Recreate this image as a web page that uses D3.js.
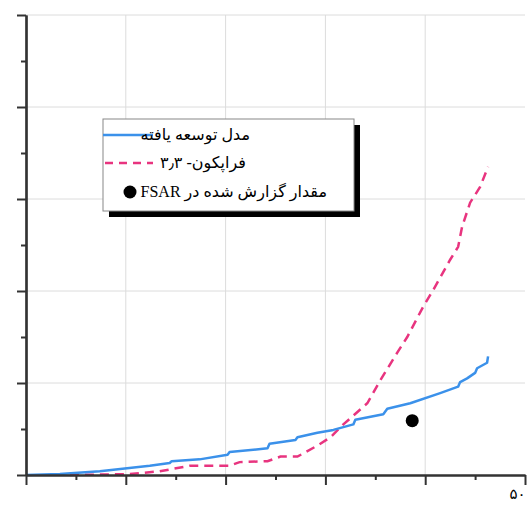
<!DOCTYPE html>
<html>
<head>
<meta charset="utf-8">
<script src="https://cdn.jsdelivr.net/npm/d3@7"></script>
<style>
  body { margin: 0; background: #fff; }
  svg { display: block; }
</style>
</head>
<body>
<div class="app"></div>
<script>
// developed model (blue, solid)
var modelX = [0, 3.4, 7.4, 9.9, 12.4, 14.4, 14.6, 17.4, 20.2, 20.4, 24.2, 24.4, 27.0, 27.2, 29.2, 30.8, 32.8, 33.0, 35.8, 36.2, 38.5, 41.5, 43.3, 43.5, 44.2, 45.0, 45.2, 46.2, 46.3];
var modelY = [0, 0.01, 0.04, 0.07, 0.10, 0.13, 0.15, 0.17, 0.22, 0.25, 0.29, 0.34, 0.38, 0.41, 0.46, 0.49, 0.55, 0.60, 0.66, 0.72, 0.78, 0.89, 0.96, 1.01, 1.05, 1.11, 1.16, 1.22, 1.29];

// FRAPCON-3.3 (pink, dashed)
var frapX = [4.4, 10.4, 13.4, 16.4, 20.4, 21.4, 24.2, 25.5, 27.2, 29.2, 30.5, 31.8, 34.2, 35.5, 37.2, 38.2, 39.8, 40.8, 42.5, 43.3, 43.7, 44.5, 45.5, 46.3];
var frapY = [0, 0.01, 0.04, 0.10, 0.10, 0.14, 0.15, 0.20, 0.20, 0.32, 0.41, 0.55, 0.78, 1.03, 1.33, 1.50, 1.83, 2.01, 2.34, 2.48, 2.70, 2.96, 3.13, 3.35];

// FSAR reported value
var fsarX = [38.7];
var fsarY = [0.59];

var xMajor = [0, 10, 20, 30, 40, 50];
var xMinor = [5, 15, 25, 35, 45];
var yMajor = [0, 1, 2, 3, 4, 5];
var yMinor = [0.5, 1.5, 2.5, 3.5, 4.5];
var xLabels = {50: "۵۰"};

var legendNames = ["مدل توسعه یافته", "فراپکون- ۳٫۳", "مقدار گزارش شده در FSAR"];

var W = 531, H = 505;
var margin = {top: 15, right: 6, bottom: 30, left: 26},
    width = W - margin.left - margin.right,
    height = H - margin.top - margin.bottom;

var blue = "#3b91ea", pink = "#e8347f";

var x = d3.scaleLinear().domain([0, 50]).range([0, width]);
var y = d3.scaleLinear().domain([0, 5]).range([height, 0]);

var svg = d3.select(".app").append("svg")
    .attr("width", W)
    .attr("height", H)
    .append("g")
    .attr("transform", "translate(" + margin.left + "," + margin.top + ")");

// grid
svg.append("g").selectAll("line").data(xMajor.slice(1, -1)).enter().append("line")
    .attr("x1", function(d) { return x(d); }).attr("x2", function(d) { return x(d); })
    .attr("y1", 0).attr("y2", height)
    .attr("stroke", "#dcdcdc").attr("stroke-width", 1);
svg.append("g").selectAll("line").data(yMajor.slice(1)).enter().append("line")
    .attr("x1", 0).attr("x2", width)
    .attr("y1", function(d) { return y(d); }).attr("y2", function(d) { return y(d); })
    .attr("stroke", "#dcdcdc").attr("stroke-width", 1);

// lines
var line = d3.line()
    .x(function(d) { return x(d[0]); })
    .y(function(d) { return y(d[1]); });

svg.append("path")
    .datum(d3.zip(frapX, frapY))
    .attr("fill", "none")
    .attr("stroke", pink)
    .attr("stroke-width", 2.5)
    .attr("stroke-dasharray", "9,6")
    .attr("d", line);

svg.append("path")
    .datum(d3.zip(modelX, modelY))
    .attr("fill", "none")
    .attr("stroke", blue)
    .attr("stroke-width", 2.5)
    .attr("stroke-linejoin", "round")
    .attr("d", line);

svg.selectAll(".fsar").data(d3.zip(fsarX, fsarY)).enter().append("circle")
    .attr("cx", function(d) { return x(d[0]); })
    .attr("cy", function(d) { return y(d[1]); })
    .attr("r", 6.5)
    .attr("fill", "#000");

// axes
function styleAxis(g) {
  g.selectAll("path, line").attr("stroke", "#333").attr("stroke-width", 2);
  g.select(".domain").attr("stroke-width", 2.2);
}

svg.append("g")
    .attr("transform", "translate(0," + height + ")")
    .call(d3.axisBottom(x).tickValues(xMinor).tickSize(5).tickSizeOuter(0).tickFormat(""))
    .call(styleAxis);
svg.append("g")
    .attr("transform", "translate(0," + height + ")")
    .call(d3.axisBottom(x).tickValues(xMajor).tickSize(10).tickSizeOuter(0)
      .tickFormat(function(d) { return xLabels[d] || ""; }))
    .call(styleAxis)
    .call(function(g) {
      g.selectAll("text")
        .attr("dy", "0.75em")
        .attr("x", 0)
        .attr("text-anchor", "end")
        .style("font-family", "'Liberation Serif', 'DejaVu Sans', serif")
        .style("font-size", "15px")
        .attr("fill", "#000");
    });

svg.append("g")
    .call(d3.axisLeft(y).tickValues(yMinor).tickSize(5).tickSizeOuter(0).tickFormat(""))
    .call(styleAxis);
svg.append("g")
    .call(d3.axisLeft(y).tickValues(yMajor).tickSize(9).tickSizeOuter(0).tickFormat(""))
    .call(styleAxis);

// legend
var lg = svg.append("g").attr("transform", "translate(" + (103 - margin.left) + "," + (119 - margin.top) + ")");
var lw = 251, lh = 92;
lg.append("rect").attr("x", 6).attr("y", 6).attr("width", lw).attr("height", lh).attr("fill", "#000");
lg.append("rect").attr("x", 0).attr("y", 0).attr("width", lw).attr("height", lh)
    .attr("fill", "#fff").attr("stroke", "#888").attr("stroke-width", 1);

var rows = [16, 44, 73];
lg.append("line").attr("x1", 0).attr("x2", 50).attr("y1", rows[0]).attr("y2", rows[0])
    .attr("stroke", blue).attr("stroke-width", 2.5);
lg.append("line").attr("x1", 2).attr("x2", 50).attr("y1", rows[1]).attr("y2", rows[1])
    .attr("stroke", pink).attr("stroke-width", 2.5).attr("stroke-dasharray", "8,6");
lg.append("circle").attr("cx", 27).attr("cy", rows[2]).attr("r", 6.5).attr("fill", "#000");

var textRight = [147, 143, 224];
lg.selectAll(".lt").data(legendNames).enter().append("text")
    .attr("x", function(d, i) { return textRight[i]; })
    .attr("y", function(d, i) { return rows[i] + 5; })
    .attr("direction", "rtl")
    .attr("text-anchor", "start")
    .style("font-family", "'Liberation Serif', 'DejaVu Sans', serif")
    .style("font-size", "16px")
    .attr("fill", "#000")
    .text(function(d) { return d; });
</script>
</body>
</html>
